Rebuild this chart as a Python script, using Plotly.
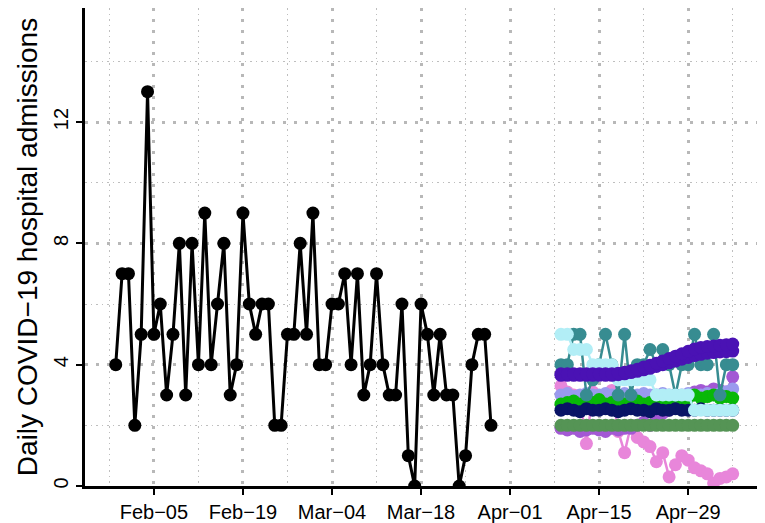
import pandas as pd
import plotly.graph_objects as go

# ---- observed daily admissions (black series) ----
obs_start = "2020-01-30"
obs_values = [4, 7, 7, 2, 5, 13, 5, 6, 3, 5, 8, 3, 8, 4, 9, 4, 6, 8, 3, 4,
              9, 6, 5, 6, 6, 2, 2, 5, 5, 8, 5, 9, 4, 4, 6, 6, 7, 4, 7, 3,
              4, 7, 4, 3, 3, 6, 1, 0, 6, 5, 3, 5, 3, 3, 0, 1, 4, 5, 5, 2]

# ---- forecast trajectories ----
fc_start = "2020-04-09"
fc_pink = [3.3, 3.1, 3.0, 2.9, 1.4, 3.1, 2.8, 3.0, 3.15, 1.8, 1.1, 2.0, 1.6, 1.45,
           1.3, 0.8, 1.1, 0.3, 0.7, 1.0, 0.85, 0.6, 0.5, 0.4, 0.1, 0.25, 0.3, 0.4]
fc_mediumpurple = [1.9, 1.85, 1.9, 1.8, 1.85, 1.9, 1.85, 1.8, 1.9, 1.85, 1.9, 1.9, 2.0, 2.1,
                   2.0, 2.2, 2.4, 2.5, 2.6, 2.8, 3.0, 3.1, 3.15, 3.1, 3.2, 3.15, 3.1, 3.6]
fc_periwinkle = [3.0, 3.05, 2.95, 3.0, 3.05, 3.0, 3.0, 3.05, 3.0, 2.95, 3.05, 3.0, 3.0, 3.05,
                 3.0, 3.0, 3.05, 3.0, 2.95, 3.0, 3.05, 3.0, 3.0, 3.05, 3.0, 3.05, 3.1, 3.2]
fc_green = [2.7, 2.75, 2.8, 2.7, 2.8, 2.75, 2.85, 2.7, 2.75, 2.8, 2.7, 2.75, 2.8, 2.7,
            2.75, 2.8, 2.75, 2.7, 2.8, 2.75, 2.9, 3.0, 2.9, 2.95, 3.0, 2.9, 2.95, 2.9]
fc_navy = [2.5, 2.55, 2.5, 2.45, 2.55, 2.5, 2.5, 2.55, 2.5, 2.45, 2.5, 2.55, 2.5, 2.5,
           2.45, 2.55, 2.5, 2.5, 2.55, 2.5, 2.5, 2.5, 2.55, 2.5, 2.5, 2.5, 2.5, 2.5]
fc_seagreen = [2.0, 2.0, 2.0, 2.0, 2.0, 2.0, 2.0, 2.0, 2.0, 2.0, 2.0, 2.0, 2.0, 2.0,
               2.0, 2.0, 2.0, 2.0, 2.0, 2.0, 2.0, 2.0, 2.0, 2.0, 2.0, 2.0, 2.0, 2.0]
fc_teal = [4.0, 4.0, 5.0, 5.0, 3.0, 3.5, 4.0, 5.0, 4.0, 3.0, 5.0, 3.0, 4.0, 4.0,
           4.5, 4.0, 4.5, 4.0, 3.0, 4.0, 4.0, 5.0, 4.0, 4.0, 5.0, 3.0, 4.0, 4.0]
fc_indigo2 = [3.65, 3.65, 3.65, 3.65, 3.65, 3.65, 3.65, 3.65, 3.65, 3.67, 3.7, 3.74, 3.78, 3.83,
              3.88, 3.94, 4.0, 4.06, 4.12, 4.18, 4.24, 4.3, 4.34, 4.38, 4.4, 4.42, 4.43, 4.45]
fc_indigo = [3.7, 3.7, 3.7, 3.7, 3.7, 3.7, 3.7, 3.7, 3.7, 3.72, 3.75, 3.8, 3.85, 3.92,
             3.98, 4.05, 4.12, 4.2, 4.28, 4.36, 4.44, 4.52, 4.57, 4.6, 4.62, 4.64, 4.66, 4.68]
fc_cyan = [5.0, 5.0, 4.5, 4.5, 4.5, 4.0, 4.0, 4.0, 4.0, 3.5, 3.5, 3.5, 3.5, 3.5,
           3.5, 3.0, 3.0, 3.0, 3.0, 3.0, 3.0, 2.5, 2.5, 2.5, 2.5, 2.5, 2.5, 2.5]

tick_dates = ["2020-02-05", "2020-02-19", "2020-03-04", "2020-03-18",
              "2020-04-01", "2020-04-15", "2020-04-29"]
tick_labels = ["Feb\u221205", "Feb\u221219", "Mar\u221204", "Mar\u221218",
               "Apr\u221201", "Apr\u221215", "Apr\u221229"]
y_ticks = [0, 4, 8, 12]

obs_dates = pd.date_range(obs_start, periods=len(obs_values))
fc_dates = pd.date_range(fc_start, periods=len(fc_cyan))

forecasts = [
    (fc_pink, "#E886DA"),
    (fc_mediumpurple, "#A358D4"),
    (fc_periwinkle, "#9A9AEE"),
    (fc_green, "#08B808"),
    (fc_navy, "#0A1466"),
    (fc_seagreen, "#559455"),
    (fc_teal, "#378C91"),
    (fc_cyan, "#B2EEF6"),
    (fc_indigo2, "#4A12B4"),
    (fc_indigo, "#4A12B4"),
]

fig = go.Figure()
fig.add_trace(go.Scatter(x=obs_dates, y=obs_values, mode="lines+markers",
                         line=dict(color="black", width=3),
                         marker=dict(color="black", size=13),
                         showlegend=False))
for vals, col in forecasts:
    fig.add_trace(go.Scatter(x=fc_dates, y=vals, mode="lines+markers",
                             line=dict(color=col, width=2.5),
                             marker=dict(color=col, size=13),
                             showlegend=False))

grid_major = "#B8B8B8"
grid_minor = "#BEBEBE"
day_ms = 86400000

fig.update_layout(
    width=757, height=515,
    margin=dict(l=77, r=5, t=0, b=37),
    plot_bgcolor="white", paper_bgcolor="white",
    font=dict(family="Liberation Sans, Arial, sans-serif", size=20, color="black"),
    xaxis=dict(
        type="date", automargin=False,
        range=["2020-01-25 04:00", "2020-05-10 07:00"],
        tickvals=tick_dates, ticktext=tick_labels,
        showline=True, linecolor="black", linewidth=2.5,
        ticks="outside", ticklen=6, tickwidth=2, tickcolor="black",
        showgrid=True, gridcolor=grid_major, gridwidth=3, griddash="3px,8px",
        zeroline=False,
        tickfont=dict(size=20),
        minor=dict(tick0="2020-01-29", dtick=14 * day_ms, showgrid=True,
                   gridcolor=grid_minor, gridwidth=1.3, griddash="1.5px,4px", ticks=""),
    ),
    yaxis=dict(
        range=[0, 15.76], automargin=False,
        tickvals=y_ticks,
        showline=True, linecolor="black", linewidth=2.5,
        ticks="outside", ticklen=6, tickwidth=2, tickcolor="black",
        tickangle=-90,
        showgrid=True, gridcolor=grid_major, gridwidth=3, griddash="3px,8px",
        zeroline=False,
        tickfont=dict(size=20),
        title=dict(text="Daily COVID\u221219 hospital admissions", font=dict(size=28), standoff=5),
        minor=dict(tick0=2, dtick=4, showgrid=True,
                   gridcolor=grid_minor, gridwidth=1.3, griddash="1.5px,4px", ticks=""),
    ),
)

fig.write_html("out.html")
